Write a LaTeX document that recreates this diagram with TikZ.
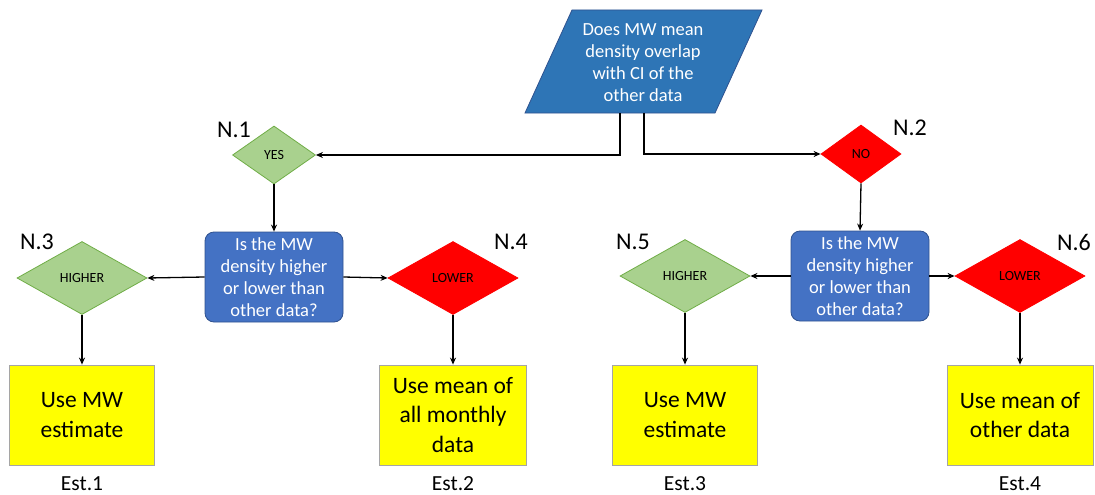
\documentclass[tikz,border=0pt]{standalone}
\usepackage{fontspec}
\setmainfont{Carlito}
\usetikzlibrary{shapes.geometric,arrows.meta}
\definecolor{qblue}{HTML}{2E75B6}
\definecolor{qedge}{HTML}{2F528F}
\definecolor{boxblue}{HTML}{4472C4}
\definecolor{yesgreen}{HTML}{A9D18E}
\definecolor{yesedge}{HTML}{70AD47}
\definecolor{nored}{HTML}{FF0000}
\definecolor{estyellow}{HTML}{FFFF00}
\definecolor{estedge}{HTML}{A5A5A5}
\tikzset{
  link/.style={draw=black, line width=1.3pt, -{Stealth[length=7pt,width=6pt]}},
  yesdia/.style={diamond, draw=yesedge, fill=yesgreen, line width=0.8pt, inner sep=0pt, font=\fontsize{14}{15}\selectfont},
  nodia/.style={diamond, draw=nored, fill=nored, line width=0.8pt, inner sep=0pt, font=\fontsize{14}{15}\selectfont},
  smalldia/.style={minimum width=83pt, minimum height=58pt},
  bigdia/.style={minimum width=130pt, minimum height=73pt},
  askbox/.style={rectangle, rounded corners=9pt, draw=qedge, fill=boxblue, line width=0.8pt, text=white,
    minimum width=138pt, minimum height=90pt, inner sep=0pt, align=center, font=\fontsize{18.5}{22}\selectfont},
  estbox/.style={rectangle, draw=estedge, fill=estyellow, line width=0.8pt, minimum width=145pt, minimum height=100pt,
    inner sep=0pt, align=center, font=\fontsize{23.5}{29.5}\selectfont},
  tag/.style={font=\fontsize{24}{25}\selectfont},
  esttag/.style={font=\fontsize{21.5}{22}\selectfont}
}
\begin{document}
\begin{tikzpicture}[x=1pt,y=-1pt]
\useasboundingbox (0,0) rectangle (1095,495);

% question parallelogram
\filldraw[fill=qblue, draw=qedge, line width=0.8pt] (572,10) -- (762,10) -- (715,113) -- (525,113) -- cycle;
\node[text=white, align=center, inner sep=0pt, font=\fontsize{18.5}{22}\selectfont] (q) at (643,63)
  {Does MW mean\\density overlap\\with CI of the\\other data};
\coordinate (qL) at (620,113);
\coordinate (qR) at (644,113);

% first level answers
\node[yesdia, smalldia] (yes) at (274,155) {YES};
\node[nodia, smalldia, minimum width=80pt] (no) at (861,154) {NO};
\node[tag] (t1) at (234,130) {N.1};
\node[tag] (t2) at (910,128) {N.2};

\draw[link] (qL) |- (yes.east);
\draw[link] (qR) |- (no.west);

% comparison boxes
\node[askbox] (ask1) at (274,277) {Is the MW\\density higher\\or lower than\\other data?};
\node[askbox] (ask2) at (860,276) {Is the MW\\density higher\\or lower than\\other data?};
\draw[link] (yes.south) -- (ask1.north);
\draw[link] (no.south) -- (ask2.north);

% second level answers
\node[yesdia, bigdia] (hi1) at (82,278) {HIGHER};
\node[nodia, bigdia] (lo1) at (453,278) {LOWER};
\node[yesdia, bigdia] (hi2) at (685,276) {HIGHER};
\node[nodia, bigdia] (lo2) at (1020,276) {LOWER};
\node[tag] (t3) at (37,242) {N.3};
\node[tag] (t4) at (511,242) {N.4};
\node[tag] (t5) at (633,242) {N.5};
\node[tag] (t6) at (1074,242) {N.6};

\draw[link] (ask1.west) -- (hi1.east);
\draw[link] (ask1.east) -- (lo1.west);
\draw[link] (ask2.west) -- (hi2.east);
\draw[link] (ask2.east) -- (lo2.west);

% estimates
\node[estbox] (e1) at (82,415) {Use MW\\estimate};
\node[estbox, minimum width=147pt] (e2) at (453,415) {Use mean of\\all monthly\\data};
\node[estbox] (e3) at (685,415) {Use MW\\estimate};
\node[estbox, minimum width=146pt] (e4) at (1020,415) {Use mean of\\other data};
\node[esttag] (s1) at (82,484) {Est.1};
\node[esttag] (s2) at (453,484) {Est.2};
\node[esttag] (s3) at (685,484) {Est.3};
\node[esttag] (s4) at (1020,484) {Est.4};

\draw[link] (hi1.south) -- (e1.north);
\draw[link] (lo1.south) -- (e2.north);
\draw[link] (hi2.south) -- (e3.north);
\draw[link] (lo2.south) -- (e4.north);
\end{tikzpicture}
\end{document}
